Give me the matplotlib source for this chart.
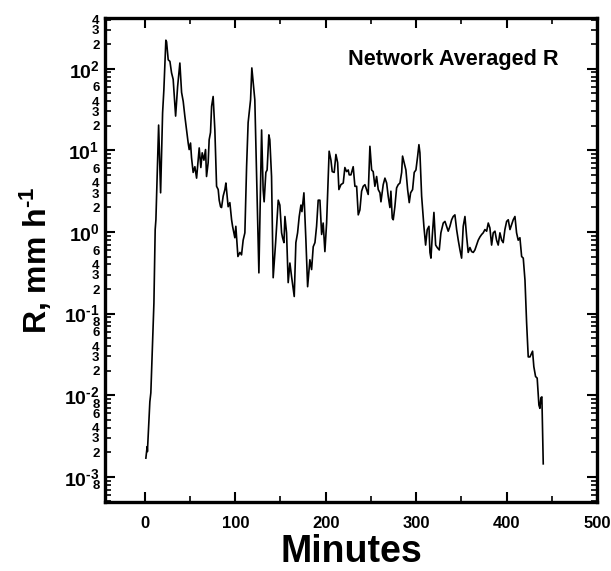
import numpy as np
import matplotlib
matplotlib.use("Agg")
import matplotlib.pyplot as plt
from matplotlib.ticker import FixedLocator, FixedFormatter, MultipleLocator

plt.rcParams['font.family'] = ['Liberation Sans', 'DejaVu Sans']
plt.rcParams['font.weight'] = 'bold'
plt.rcParams['mathtext.fontset'] = 'custom'
plt.rcParams['mathtext.bf'] = 'Liberation Sans:bold'
plt.rcParams['mathtext.rm'] = 'Liberation Sans:bold'
plt.rcParams['mathtext.default'] = 'bf'

# network averaged rain rate (log10 of mm/h)
minutes = [1.1, 2.5, 2.8, 5.5, 6.6, 8.5, 10.0, 11.4, 12.2, 15.2, 17.4, 19.6, 21.0,
           23.2, 24.0, 25.8, 27.7, 29.5, 31.3, 34.0, 36.2, 38.7, 40.6, 42.4, 44.2,
           46.1, 47.9, 49.0, 50.5, 51.6, 53.4, 55.3, 57.2, 58.9, 60.1, 61.9, 63.4,
           65.3, 67.1, 68.2, 70.0, 71.1, 72.6, 73.8, 75.5, 77.4, 79.3, 81.1, 82.2,
           83.7, 84.8, 86.6, 88.5, 89.6, 91.0, 92.1, 94.0, 95.9, 97.0, 99.5, 100.6,
           102.9, 105.1, 106.9, 108.7, 110.6, 112.5, 114.2, 116.9, 118.3, 121.6,
           126.1, 129.1, 130.8, 131.9, 133.8, 135.2, 137.1, 138.2, 140.1, 141.9,
           144.6, 147.5, 149.3, 151.2, 152.3, 153.8, 154.9, 156.7, 158.5, 160.4,
           162.3, 165.2, 167.0, 168.9, 170.7, 172.6, 173.7, 175.9, 178.1, 180.0,
           182.5, 184.4, 186.2, 188.1, 189.9, 191.7, 193.6, 195.5, 197.2, 199.1,
           201.0, 203.8, 205.8, 207.2, 209.4, 211.3, 213.2, 214.6, 216.8, 219.4,
           221.2, 223.1, 224.9, 226.0, 227.9, 230.4, 232.3, 234.2, 236.0, 237.8,
           239.7, 241.5, 243.4, 245.2, 247.0, 248.9, 250.8, 252.5, 254.4, 256.3,
           258.1, 260.0, 261.1, 263.6, 265.5, 267.4, 269.1, 271.0, 272.1, 273.6,
           274.7, 276.5, 278.4, 280.2, 282.1, 284.0, 285.0, 286.8, 288.7, 290.6,
           292.4, 293.9, 296.1, 297.9, 299.8, 301.7, 303.1, 304.2, 306.1, 308.6,
           310.5, 312.3, 314.2, 315.3, 316.4, 317.8, 319.7, 321.6, 323.3, 325.6,
           327.4, 330.0, 331.9, 333.7, 335.5, 337.4, 339.3, 341.0, 342.9, 344.8,
           346.6, 348.5, 350.3, 352.1, 354.0, 355.9, 357.6, 359.5, 361.4, 363.2,
           365.0, 366.9, 368.7, 370.6, 372.5, 374.2, 376.1, 378.0, 379.8, 381.6,
           383.5, 385.3, 387.2, 389.0, 390.8, 392.7, 394.6, 396.3, 398.2, 400.1,
           401.9, 403.8, 405.6, 407.4, 409.3, 411.1, 412.9, 414.8, 416.7, 418.5,
           420.4, 422.2, 424.0, 425.9, 428.8, 430.2, 432.1, 433.9, 435.8, 436.9,
           438.0, 439.1, 440.6]
log_r = [-2.77, -2.63, -2.69, -2.08, -1.97, -1.35, -0.87, 0.03, 0.15, 1.31, 0.48, 1.46, 1.74,
         2.35, 2.33, 2.11, 2.09, 1.95, 1.87, 1.42, 1.78, 2.07, 1.71, 1.60, 1.42,
         1.25, 1.09, 1.01, 1.09, 0.91, 0.73, 0.80, 0.66, 0.88, 1.03, 0.79, 0.97,
         0.88, 1.01, 0.68, 0.85, 1.13, 1.22, 1.54, 1.66, 1.25, 0.56, 0.52, 0.39,
         0.31, 0.30, 0.44, 0.52, 0.60, 0.44, 0.31, 0.36, 0.15, 0.07, -0.07, 0.07,
         -0.30, -0.25, -0.28, -0.10, -0.01, 0.80, 1.34, 1.62, 2.01, 1.62,
         -0.50, 1.25, 0.52, 0.37, 0.73, 0.76, 1.19, 1.13, 0.68, -0.56,
         -0.13, 0.39, 0.33, -0.01, -0.07, -0.13, 0.19, -0.01, -0.62, -0.38,
         -0.55, -0.79, -0.13, -0.01, 0.19, 0.33, 0.25, 0.48, -0.10, -0.67,
         -0.34, -0.46, -0.18, -0.13, 0.07, 0.39, 0.39, -0.03, 0.11, -0.24,
         0.11, 0.99, 0.88, 0.74, 0.73, 0.95, 0.85, 0.52, 0.58, 0.60,
         0.79, 0.74, 0.76, 0.70, 0.70, 0.80, 0.56, 0.56, 0.21, 0.27,
         0.50, 0.56, 0.58, 0.52, 0.46, 1.05, 0.76, 0.74, 0.56, 0.68,
         0.52, 0.48, 0.37, 0.58, 0.66, 0.60, 0.44, 0.30, 0.50, 0.17,
         0.15, 0.31, 0.54, 0.58, 0.60, 0.73, 0.93, 0.85, 0.76, 0.52,
         0.36, 0.48, 0.52, 0.73, 0.76, 0.93, 1.07, 0.97, 0.44, 0.07,
         -0.16, 0.03, 0.07, -0.25, -0.32, -0.06, 0.24, -0.16, -0.19, -0.22,
         -0.01, 0.11, 0.13, 0.07, 0.01, 0.07, 0.15, 0.19, 0.21, 0.03,
         -0.10, -0.22, -0.32, 0.07, 0.19, -0.06, -0.25, -0.19, -0.24, -0.25,
         -0.22, -0.16, -0.10, -0.06, -0.03, -0.01, 0.03, 0.01, 0.11, 0.05,
         -0.16, -0.01, 0.01, -0.10, -0.16, -0.01, -0.10, -0.13, 0.03, 0.13,
         0.15, 0.03, 0.09, 0.15, 0.19, -0.01, -0.10, -0.07, -0.30, -0.32,
         -0.59, -1.11, -1.53, -1.53, -1.46, -1.65, -1.77, -1.79, -2.12, -2.16,
         -2.03, -2.02, -2.84]

decades = [-3, -2, -1, 0, 1, 2]
major_labels = [r'$\mathbf{10^{\text{%s}}}$' % (('-%d' % -d) if d < 0 else str(d)) for d in decades]
x_ticks = [0, 100, 200, 300, 400, 500]

rain = 10.0 ** np.array(log_r)

fig = plt.figure(figsize=(6.11, 5.71), dpi=100)
ax = fig.add_axes([0.172, 0.121, 0.805, 0.848])
ax.plot(minutes, rain, color='black', lw=1.2)
ax.set_yscale('log')
ax.set_xlim(-44, 500)
ax.set_ylim(4.94e-4, 422)

# y ticks: decades plus labelled minor values
ax.yaxis.set_major_locator(FixedLocator([10.0 ** d for d in decades]))
ax.yaxis.set_major_formatter(FixedFormatter(major_labels))
minor_pos, minor_lab = [], []
for d in [-4] + decades:
    for m in range(2, 10):
        v = m * 10.0 ** d
        if v < 4.94e-4 or v > 422:
            continue
        minor_pos.append(v)
        if d == -4:
            minor_lab.append('8' if m == 8 else '')
        elif m in (2, 3, 4, 6) or (m == 8 and d < -1):
            minor_lab.append(str(m))
        else:
            minor_lab.append('')
ax.yaxis.set_minor_locator(FixedLocator(minor_pos))
ax.yaxis.set_minor_formatter(FixedFormatter(minor_lab))

ax.set_xticks(x_ticks)
ax.xaxis.set_minor_locator(MultipleLocator(50))

ax.tick_params(which='both', direction='in', top=True, right=True)
ax.tick_params(which='major', length=7, width=1.5)
ax.tick_params(which='minor', length=4, width=1.2)
ax.tick_params(axis='x', which='major', labelsize=12, pad=10)
ax.tick_params(axis='y', which='major', labelsize=14, pad=4)
ax.tick_params(axis='y', which='minor', labelsize=9.5, pad=4)
for s in ax.spines.values():
    s.set_linewidth(2.4)

ax.set_xlabel('Minutes', fontsize=27, fontweight='bold', labelpad=2)
ax.set_ylabel(r'R, mm h$^{\text{-1}}$', fontsize=23, fontweight='bold', labelpad=7)
ax.text(0.922, 0.935, 'Network Averaged R', transform=ax.transAxes,
        ha='right', va='top', fontsize=15.6, fontweight='bold')

fig.savefig('out.png', dpi=100)
